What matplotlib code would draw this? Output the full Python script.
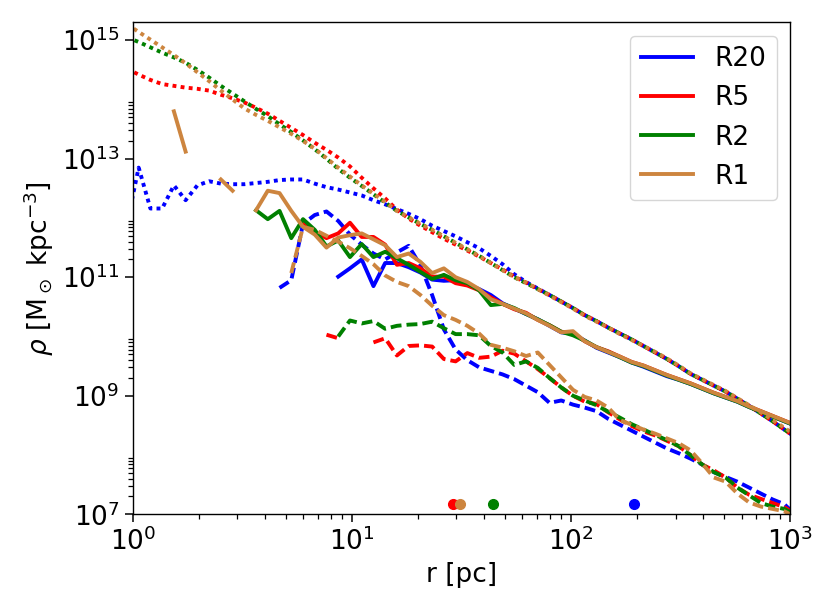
import numpy as np
import matplotlib
matplotlib.use('Agg')
import matplotlib.pyplot as plt
from matplotlib.ticker import FixedLocator, NullFormatter

nan = np.nan

# log-spaced radial bin centres [pc]
r = 10 ** np.linspace(-0.0268, 3.0268, 58)

# log10 density [Msun kpc^-3], dotted curves
blue_dot = [11.90, 12.85, 12.16, 12.16, 12.55, 12.30, 12.55, 12.62, 12.58, 12.57,
            12.57, 12.59, 12.61, 12.64, 12.65, 12.65, 12.58, 12.52, 12.48, 12.43,
            12.38, 12.30, 12.23, 12.15, 12.07, 11.98, 11.87, 11.78, 11.69, 11.59,
            11.49, 11.36, 11.22, 11.05, 10.92, 10.81, 10.70, 10.59, 10.48, 10.36,
            10.26, 10.15, 10.05, 9.95, 9.84, 9.73, 9.62, 9.50, 9.37, 9.27,
            9.17, 9.07, 8.95, 8.83, 8.70, 8.57, 8.43, 8.29]
red_dot = [14.52, 14.42, 14.33, 14.26, 14.23, 14.20, 14.18, 14.15, 14.08, 14.02,
           13.95, 13.86, 13.76, 13.64, 13.52, 13.40, 13.27, 13.15, 13.02, 12.87,
           12.68, 12.50, 12.33, 12.14, 11.99, 11.87, 11.76, 11.65, 11.55, 11.45,
           11.35, 11.24, 11.13, 11.01, 10.91, 10.80, 10.70, 10.59, 10.48, 10.36,
           10.26, 10.15, 10.05, 9.95, 9.84, 9.73, 9.62, 9.50, 9.37, 9.27,
           9.17, 9.07, 8.95, 8.83, 8.70, 8.57, 8.43, 8.29]
green_dot = [15.05, 14.97, 14.88, 14.79, 14.71, 14.62, 14.50, 14.37, 14.23, 14.10,
             13.97, 13.84, 13.72, 13.58, 13.45, 13.31, 13.16, 13.00, 12.83, 12.68,
             12.54, 12.40, 12.26, 12.12, 12.01, 11.90, 11.80, 11.69, 11.58, 11.47,
             11.36, 11.24, 11.12, 11.00, 10.90, 10.80, 10.70, 10.59, 10.48, 10.36,
             10.26, 10.15, 10.05, 9.95, 9.84, 9.73, 9.62, 9.50, 9.37, 9.27,
             9.17, 9.07, 8.95, 8.83, 8.70, 8.57, 8.43, 8.29]
tan_dot = [15.27, 15.14, 15.01, 14.88, 14.75, 14.61, 14.46, 14.31, 14.15, 14.00,
           13.85, 13.74, 13.64, 13.53, 13.42, 13.30, 13.17, 13.01, 12.85, 12.70,
           12.55, 12.41, 12.27, 12.12, 12.01, 11.90, 11.80, 11.69, 11.58, 11.47,
           11.36, 11.24, 11.12, 11.00, 10.91, 10.80, 10.69, 10.58, 10.47, 10.35,
           10.25, 10.15, 10.04, 9.94, 9.84, 9.74, 9.63, 9.51, 9.38, 9.28,
           9.18, 9.08, 8.96, 8.84, 8.72, 8.59, 8.46, 8.33]

# solid curves
blue_sol = [nan] * 18 + [
    11.01, 11.15,
    11.30, 10.85, 11.24, 11.24, 11.17, 11.08, 10.96, 10.94, 10.95, 10.88,
    10.80, 10.70, 10.56, 10.47, 10.38, 10.29, 10.18, 10.07, 10.05, 9.93,
    9.81, 9.73, 9.65, 9.56, 9.49, 9.41, 9.33, 9.27, 9.20, 9.12,
    9.04, 8.97, 8.90, 8.81, 8.73, 8.65, 8.57, 8.49]
red_sol = [nan] * 15 + [
    11.90, 11.76, 11.66, 11.74, 11.92,
    11.68, 11.68, 11.55, 11.21, 11.24, 11.15, 11.01, 11.01, 10.90, 10.86,
    10.78, 10.66, 10.55, 10.46, 10.40, 10.28, 10.19, 10.08, 10.06, 9.92,
    9.82, 9.75, 9.66, 9.57, 9.51, 9.43, 9.35, 9.28, 9.21, 9.13,
    9.05, 8.98, 8.91, 8.82, 8.74, 8.66, 8.58, 8.50]
green_sol = [nan] * 11 + [
    12.13, 11.98, 12.12, 11.66, 11.98, 11.80, 11.52, 11.62, 11.34,
    11.56, 11.34, 11.43, 11.32, 11.21, 11.09, 10.97, 11.04, 10.95, 10.90,
    10.78, 10.53, 10.55, 10.48, 10.38, 10.29, 10.19, 10.08, 10.02, 9.93,
    9.82, 9.74, 9.65, 9.56, 9.50, 9.42, 9.34, 9.27, 9.20, 9.12,
    9.04, 8.97, 8.90, 8.81, 8.73, 8.65, 8.57, 8.49]
tan_sol = [nan, nan, nan, nan, 13.80, 13.12, nan, nan, 12.65, 12.46,
           nan, 12.13, 12.46, 12.42, 12.12, 11.85, 11.72, 11.50, 11.67, 11.71,
           11.74, 11.64, 11.54, 11.34, 11.40, 11.26, 11.07, 11.15, 11.00, 10.92,
           10.80, 10.63, 10.55, 10.47, 10.39, 10.28, 10.18, 10.07, 10.09, 9.92,
           9.82, 9.74, 9.66, 9.57, 9.51, 9.43, 9.35, 9.28, 9.21, 9.13,
           9.05, 8.98, 8.91, 8.82, 8.74, 8.66, 8.58, 8.50]

# dashed curves
blue_das = [nan] * 13 + [
    10.82, 10.95, 11.90, 12.05, 12.11, 11.95, 11.72,
    11.55, 11.40, 11.30, 11.42, 11.53, 11.20, 10.70, 10.12, 9.78, 9.60,
    9.48, 9.42, 9.36, 9.28, 9.17, 9.06, 8.88, 8.92, 8.85, 8.80,
    8.74, 8.61, 8.51, 8.41, 8.31, 8.21, 8.11, 8.03, 7.94, 7.84,
    7.71, 7.63, 7.55, 7.45, 7.35, 7.25, 7.17, 6.98]
red_das = [nan] * 17 + [
    10.03, 9.97, nan,
    nan, 9.90, 9.97, 9.68, 9.84, 9.85, 9.83, 9.62, 9.58, 9.72,
    9.64, 9.66, 9.76, 9.71, 9.58, 9.45, 9.30, 9.14, 9.00, 8.90,
    8.86, 8.72, 8.60, 8.49, 8.40, 8.33, 8.24, 8.15, 8.00, 7.84,
    7.74, 7.62, 7.45, 7.33, 7.26, 7.19, 7.12, 7.00]
green_das = [nan] * 18 + [
    10.00, 10.27,
    10.22, 10.26, 10.13, 10.18, 10.20, 10.21, 10.25, 10.14, 10.04, 10.04,
    10.02, 9.84, 9.73, 9.52, 9.58, 9.47, 9.30, 9.14, 9.00, 8.92,
    8.84, 8.73, 8.63, 8.52, 8.43, 8.34, 8.25, 8.15, 8.00, 7.84,
    7.71, 7.62, 7.45, 7.32, 7.19, 7.13, 7.09, 6.98]
tan_das = [nan] * 14 + [
    11.07, 11.85, 11.80, 11.70, 11.60, 11.49,
    11.36, 11.22, 11.03, 10.92, 10.85, 10.70, 10.52, 10.36, 10.28, 10.18,
    10.05, 9.86, 9.81, 9.75, 9.67, 9.73, 9.52, 9.31, 9.10, 8.98,
    8.92, 8.80, 8.59, 8.51, 8.43, 8.36, 8.28, 8.20, 8.08, 7.86,
    7.62, 7.55, 7.35, 7.20, 7.13, 7.09, 7.05, 6.95]

# marker radii along the bottom [pc]
r_mark = [193, 29, 44, 31]
rho_mark = 1.5e7

runs = ['R20', 'R5', 'R2', 'R1']
colors = ['blue', 'red', 'green', 'peru']
dots = [blue_dot, red_dot, green_dot, tan_dot]
sols = [blue_sol, red_sol, green_sol, tan_sol]
dass = [blue_das, red_das, green_das, tan_das]

lw = 2.8
dotted = (0, (1.0, 1.1))
dashed = (0, (2.8, 1.3))

fig = plt.figure(figsize=(8.3, 6.05), dpi=100)
ax = fig.add_axes([0.160, 0.150, 0.792, 0.813])

for i in range(4):
    ax.plot(r, 10 ** np.array(dots[i]), c=colors[i], ls=dotted, lw=lw)
    ax.plot(r, 10 ** np.array(sols[i]), c=colors[i], ls='-', lw=lw, label=runs[i])
    ax.plot(r, 10 ** np.array(dass[i]), c=colors[i], ls=dashed, lw=lw)

for i in range(4):
    ax.plot(r_mark[i], rho_mark, 'o', c=colors[i], ms=7)

ax.set_xscale('log')
ax.set_yscale('log')
ax.set_xlim(1, 1e3)
ax.set_ylim(1e7, 2e15)
ax.set_yticks([1e7, 1e9, 1e11, 1e13, 1e15])
ax.yaxis.set_minor_locator(FixedLocator([k * 10.0 ** n for n in (7, 9, 11, 13) for k in range(2, 10)]))
ax.yaxis.set_minor_formatter(NullFormatter())

ax.tick_params(which='major', length=6, width=1.1, labelsize=19)
ax.tick_params(which='minor', length=3.5, width=0.9)
for s in ax.spines.values():
    s.set_linewidth(1.0)

ax.set_xlabel('r [pc]', fontsize=19)
ax.set_ylabel(r'$\rho$ [M$_\odot$ kpc$^{-3}$]', fontsize=19)
ax.legend(loc='upper right', fontsize=19)

fig.savefig('out.png', dpi=100)
